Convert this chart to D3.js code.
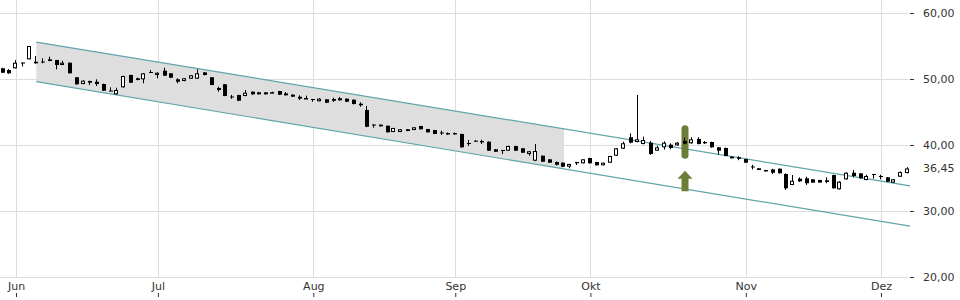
<!DOCTYPE html>
<html>
<head>
<meta charset="utf-8">
<script src="https://cdn.jsdelivr.net/npm/d3@7"></script>
<style>
  html, body { margin: 0; padding: 0; background: #fff; }
  svg { display: block; font-family: "DejaVu Sans", sans-serif; }
</style>
</head>
<body>
<svg id="chart" width="960" height="300"></svg>
<script>
// OHLC per trading day
const open = [51.62, 51.36, 51.62, 52.5, 52.98, 52.62, 52.65, 52.98, 52.88, 52.12,
    52.47, 50.26, 49.24, 49.7, 49.59, 49.24, 48.25, 47.68, 48.74, 50.61,
    50.11, 49.95, 51.06, 50.61, 51.26, 50.86, 49.95, 49.7, 50.05, 50.05,
    51.0, 50.26, 48.64, 49.2, 47.35, 47.58, 47.42, 48.08, 47.98, 47.98,
    47.9, 48.18, 47.83, 47.62, 47.32, 47.1, 46.97, 46.62, 46.92, 46.97,
    47.08, 47.02, 46.86, 46.26, 45.3, 43.1, 43.08, 42.92, 41.97, 41.97,
    42.38, 42.27, 42.88, 42.42, 42.27, 41.9, 41.82, 41.8, 41.67, 40.3,
    40.65, 40.6, 40.5, 39.35, 39.24, 39.14, 39.85, 39.5, 38.64, 37.62,
    38.38, 37.83, 37.42, 37.32, 36.71, 37.42, 37.23, 38.03, 37.42, 36.92,
    37.32, 38.38, 39.44, 41.17, 40.45, 40.15, 40.35, 39.14, 39.65, 40.05,
    39.95, 40.6, 40.26, 40.91, 40.45, 40.45, 39.65, 39.55, 38.23, 38.15,
    37.88, 36.75, 36.47, 36.21, 36.3, 36.41, 35.61, 33.94, 34.9, 34.95,
    34.8, 34.7, 34.65, 35.45, 33.29, 34.8, 35.8, 35.7, 34.7, 35.6,
    35.3, 35.1, 34.3, 35.2, 35.75];
const high = [51.7, 51.5, 52.88, 52.5, 55.0, 53.48, 53.14, 53.38, 52.9, 52.77,
    52.5, 50.3, 49.8, 49.75, 49.95, 49.3, 48.74, 48.68, 50.5, 50.65,
    50.2, 50.9, 51.36, 51.0, 51.71, 50.9, 50.11, 50.15, 50.6, 51.47,
    51.05, 50.3, 48.83, 49.25, 47.6, 47.6, 48.33, 48.1, 48.05, 48.0,
    48.08, 48.2, 48.03, 47.7, 47.53, 47.47, 46.97, 47.1, 46.95, 47.17,
    47.27, 47.05, 46.9, 46.47, 45.91, 43.15, 43.1, 42.95, 42.6, 42.4,
    42.4, 42.7, 42.9, 42.45, 42.3, 42.17, 41.9, 41.9, 41.7, 40.76,
    40.76, 40.8, 40.55, 39.4, 39.26, 39.9, 39.9, 39.55, 39.1, 40.15,
    38.4, 37.85, 37.5, 37.35, 37.15, 37.45, 37.85, 38.05, 37.45, 37.35,
    38.35, 39.55, 40.5, 41.77, 47.58, 41.26, 40.6, 39.9, 40.55, 40.26,
    40.45, 41.1, 41.17, 41.17, 40.6, 40.5, 39.7, 39.6, 38.3, 38.3,
    37.9, 37.0, 36.5, 36.25, 36.4, 36.45, 35.7, 35.45, 35.1, 35.2,
    34.82, 34.72, 35.1, 35.5, 34.5, 35.85, 36.2, 35.75, 35.5, 35.62,
    35.5, 35.15, 34.85, 36.0, 36.65];
const low = [50.9, 50.8, 51.6, 51.9, 52.98, 52.3, 52.38, 52.7, 51.47, 52.1,
    50.85, 49.15, 49.2, 49.09, 48.94, 48.2, 48.2, 47.65, 48.7, 49.4,
    49.8, 49.35, 51.0, 50.11, 50.45, 50.15, 49.35, 49.65, 50.0, 50.0,
    50.55, 49.05, 48.08, 47.4, 47.0, 46.65, 47.4, 47.6, 47.65, 47.65,
    47.85, 47.6, 47.5, 47.3, 46.82, 47.1, 46.56, 46.6, 46.35, 46.52,
    46.75, 46.5, 46.15, 45.8, 42.7, 42.62, 42.8, 41.9, 41.95, 41.95,
    42.1, 42.25, 42.35, 41.9, 41.65, 41.52, 41.55, 41.55, 39.6, 39.85,
    40.55, 40.15, 39.1, 38.95, 38.64, 39.1, 39.1, 38.8, 38.38, 37.55,
    37.45, 37.3, 36.9, 36.7, 36.47, 36.97, 37.2, 37.2, 36.9, 36.9,
    37.3, 38.35, 39.4, 40.26, 40.4, 40.1, 38.5, 39.1, 39.3, 39.35,
    39.9, 40.1, 40.2, 40.1, 40.15, 39.6, 38.53, 38.3, 37.95, 37.7,
    37.3, 36.3, 36.2, 35.95, 35.6, 35.7, 33.18, 33.9, 34.4, 33.94,
    34.3, 34.3, 34.2, 33.4, 33.25, 34.75, 35.1, 34.9, 34.65, 34.9,
    34.8, 34.4, 34.25, 35.15, 35.7];
const close = [50.95, 50.86, 52.47, 52.45, 55.0, 52.38, 52.55, 52.73, 52.12, 52.47,
    50.86, 49.2, 49.74, 49.44, 49.24, 48.23, 48.2, 48.33, 50.45, 49.44,
    49.85, 50.86, 51.0, 50.95, 50.5, 50.2, 49.59, 50.11, 50.56, 50.86,
    50.61, 49.09, 48.33, 47.42, 47.3, 46.71, 47.92, 47.68, 47.68, 47.68,
    48.0, 47.62, 47.53, 47.32, 47.02, 47.12, 46.95, 47.02, 46.41, 46.71,
    46.77, 46.56, 46.21, 46.02, 42.77, 43.0, 42.83, 41.92, 42.58, 42.38,
    42.12, 42.68, 42.38, 41.92, 41.67, 41.8, 41.6, 41.6, 39.65, 40.2,
    40.6, 40.4, 39.14, 38.98, 39.2, 39.85, 39.14, 38.83, 39.05, 39.09,
    37.47, 37.32, 37.0, 36.71, 37.12, 37.23, 37.83, 37.23, 36.92, 37.32,
    38.33, 39.5, 40.26, 40.35, 40.86, 40.76, 38.64, 39.65, 40.35, 39.55,
    40.35, 40.2, 40.86, 40.15, 40.26, 39.65, 39.14, 38.33, 37.98, 37.92,
    37.32, 36.7, 36.21, 36.0, 35.8, 35.71, 33.44, 34.59, 34.5, 34.2,
    34.3, 34.3, 34.4, 33.44, 34.44, 35.8, 35.3, 34.95, 35.3, 35.55,
    35.2, 34.44, 34.8, 35.9, 36.45];

const monthLabels = ['Jun', 'Jul', 'Aug', 'Sep', 'Okt', 'Nov', 'Dez'];
const monthIndex = [2, 23, 46, 67, 87, 110, 130];
const priceTicks = [20, 30, 40, 50, 60];
const lastPrice = 36.45;

// trend channel: [index, price] at both ends
const upperLine = [[5, 55.6], [134.3, 33.8]];
const lowerLine = [[5, 49.6], [134.3, 27.7]];
const shadeEnd = 83.1;

// highlighted day and signal arrow
const markIndex = 101;
const markRange = [43.0, 37.9];
const arrowRange = [36.1, 33.0];

const svg = d3.select('#chart');
const plotRight = 909;
const plotBottom = 277;

const x = d3.scaleLinear().domain([0, 134]).range([2.5, 908]);
const y = d3.scaleLinear().domain([20, 60]).range([277, 13]);

const de = d3.formatLocale({ decimal: ',', thousands: '.', grouping: [3], currency: ['', ' €'] });
const fmt = de.format('.2f');

// grid
svg.append('g')
    .selectAll('line.h')
    .data(priceTicks)
    .join('line')
    .attr('x1', 0)
    .attr('x2', plotRight)
    .attr('y1', d => Math.round(y(d)) + 0.5)
    .attr('y2', d => Math.round(y(d)) + 0.5)
    .attr('stroke', '#dcdcdc');

svg.append('g')
    .selectAll('line.v')
    .data(monthIndex)
    .join('line')
    .attr('x1', d => Math.round(x(d)) + 0.5)
    .attr('x2', d => Math.round(x(d)) + 0.5)
    .attr('y1', 0)
    .attr('y2', plotBottom)
    .attr('stroke', '#dcdcdc');

// channel
const lineAt = (line, i) => {
    const [[i0, p0], [i1, p1]] = line;
    return p0 + (p1 - p0) * (i - i0) / (i1 - i0);
};
const i0 = upperLine[0][0];

svg.append('path')
    .attr('d', d3.line()([
        [x(i0), y(lineAt(upperLine, i0))],
        [x(shadeEnd), y(lineAt(upperLine, shadeEnd))],
        [x(shadeEnd), y(lineAt(lowerLine, shadeEnd))],
        [x(i0), y(lineAt(lowerLine, i0))]
    ]) + 'Z')
    .attr('fill', '#dedede');

[upperLine, lowerLine].forEach(line => {
    svg.append('line')
        .attr('x1', x(line[0][0]))
        .attr('y1', y(line[0][1]))
        .attr('x2', x(line[1][0]))
        .attr('y2', y(line[1][1]))
        .attr('stroke', '#5fa5ab')
        .attr('stroke-width', 1.2);
});

// highlight behind the candle
svg.append('rect')
    .attr('x', x(markIndex) - 3.5)
    .attr('y', y(markRange[0]))
    .attr('width', 7)
    .attr('height', y(markRange[1]) - y(markRange[0]))
    .attr('rx', 3.5)
    .attr('fill', '#6b7d36');

// candles
const candles = svg.append('g');
open.forEach((o, i) => {
    const c = close[i];
    const xc = Math.round(x(i));
    candles.append('line')
        .attr('x1', xc - 0.5)
        .attr('x2', xc - 0.5)
        .attr('y1', y(high[i]))
        .attr('y2', y(low[i]))
        .attr('stroke', '#000');

    const top = y(Math.max(o, c));
    const h = Math.max(1, y(Math.min(o, c)) - top);
    if (c > o) {
        candles.append('rect')
            .attr('x', xc - 2.5)
            .attr('y', top + 0.5)
            .attr('width', 3)
            .attr('height', Math.max(0.5, h - 1))
            .attr('fill', '#fff')
            .attr('stroke', '#000');
    } else {
        candles.append('rect')
            .attr('x', xc - 2)
            .attr('y', top)
            .attr('width', 4)
            .attr('height', h)
            .attr('fill', '#000');
    }
});

// up arrow
const ax = x(markIndex);
const aTop = y(arrowRange[0]);
const aBot = y(arrowRange[1]);
const headBase = aTop + 8;
svg.append('path')
    .attr('d', d3.line()([
        [ax, aTop], [ax + 7.5, headBase], [ax + 3.5, headBase], [ax + 3.5, aBot],
        [ax - 3.5, aBot], [ax - 3.5, headBase], [ax - 7.5, headBase]
    ]) + 'Z')
    .attr('fill', '#6b7d36');

// right axis
const yAxis = svg.append('g')
    .attr('transform', `translate(${plotRight + 1},0)`)
    .call(d3.axisRight(y).tickValues(priceTicks).tickSize(4).tickPadding(9).tickFormat(fmt));
yAxis.select('.domain').remove();
yAxis.selectAll('line').attr('stroke', '#333');
yAxis.selectAll('text')
    .attr('font-family', '"DejaVu Sans", sans-serif')
    .attr('font-size', 11)
    .attr('fill', '#333');

svg.append('text')
    .attr('x', plotRight + 14)
    .attr('y', y(lastPrice))
    .attr('dy', '0.32em')
    .attr('font-size', 11)
    .attr('fill', '#333')
    .text(fmt(lastPrice));

// bottom axis, labels above the tick marks
const xAxis = svg.append('g')
    .attr('transform', 'translate(0,293)')
    .call(d3.axisBottom(x).tickValues(monthIndex).tickSize(4).tickFormat((d, i) => monthLabels[i]));
xAxis.select('.domain').remove();
xAxis.selectAll('line').attr('stroke', '#333');
xAxis.selectAll('text')
    .attr('y', -3)
    .attr('dy', 0)
    .attr('font-family', '"DejaVu Sans", sans-serif')
    .attr('font-size', 11)
    .attr('fill', '#333');
</script>
</body>
</html>
